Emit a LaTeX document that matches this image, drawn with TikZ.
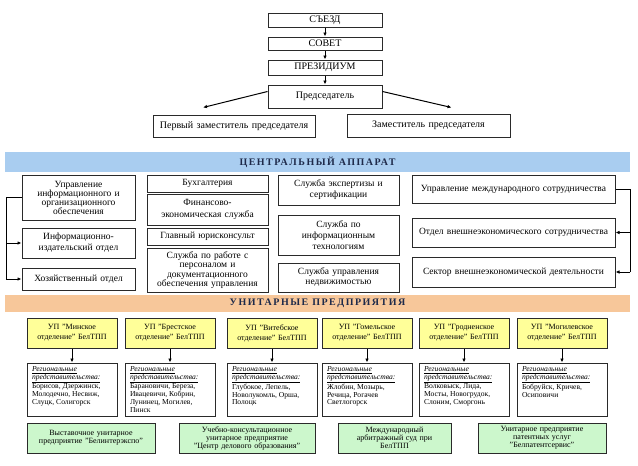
\documentclass[tikz,border=0pt]{standalone}
\usepackage{fontspec}
\setmainfont{Liberation Serif}
\usetikzlibrary{arrows.meta,positioning}
\definecolor{bandblue}{HTML}{A9CDF0}
\definecolor{bandorange}{HTML}{F7C79A}
\definecolor{unitary}{HTML}{FFFF99}
\definecolor{mint}{HTML}{CCF7CC}
\definecolor{frame}{HTML}{2A2A2A}
\definecolor{bandtext}{HTML}{1E2A4A}
\newcommand{\regtext}[1]{\parbox[t][46pt][t]{80pt}{\raggedright
 \underline{\textit{Региональные}}\\\underline{\textit{представительства:}}\\#1}}

\begin{document}
\begin{tikzpicture}[x=1pt,y=-1pt,
 b/.style={draw=frame,line width=1pt,fill=white,align=center,inner xsep=0pt,
 inner ysep=1pt,font=\fontsize{9.5}{11}\selectfont},
 top/.style={b,font=\fontsize{10}{11}\selectfont,text width=114pt},
 up/.style={b,fill=unitary,text width=90pt,minimum height=30pt,font=\fontsize{8}{10}\selectfont},
 reg/.style={b,minimum width=90pt,minimum height=53pt,font=\fontsize{7.6}{7.8}\selectfont},
 ent/.style={b,fill=mint,minimum height=30pt,font=\fontsize{8}{8}\selectfont},
 band/.style={minimum width=625pt,inner sep=0pt,text=bandtext,
 font=\fontsize{10}{10}\selectfont\bfseries\addfontfeature{LetterSpace=15}},
 a/.style={-{Latex[length=4pt,width=3.5pt]},line width=1pt,draw=black}]
 \useasboundingbox (0,0) rectangle (638,466);
 \fill[white] (0,0) rectangle (638,466);
 % governing bodies
 \node[top,minimum height=14pt] (congress) at (325,20) {СЪЕЗД};
 \node[top,minimum height=13pt,below=9pt of congress] (council) {СОВЕТ};
 \node[top,minimum height=15pt,below=9pt of council] (presidium) {ПРЕЗИДИУМ};
 \node[top,minimum height=23pt,below=9pt of presidium] (chair) {Председатель};
 \node[b,font=\fontsize{10}{11}\selectfont,text width=162pt,minimum height=22pt] (firstdep) at (234,126) {Первый заместитель председателя};
 \node[b,font=\fontsize{10}{11}\selectfont,text width=163pt,minimum height=23pt] (deputy) at (428.5,125.5) {Заместитель председателя};
 \draw[a] (congress)--(council); \draw[a] (council)--(presidium);
 \draw[a] (presidium)--(chair);
 \draw[a] ([yshift=5pt]chair.west)--([xshift=-31pt,yshift=7pt]firstdep.north);
 \draw[a] ([yshift=5pt]chair.east)--([xshift=23pt,yshift=6pt]deputy.north);
 % central office
 \node[band,fill=bandblue,minimum height=20pt] (central) at (317.5,162) {ЦЕНТРАЛЬНЫЙ АППАРАТ};
 \node[b,text width=113pt,minimum height=45pt,font=\fontsize{9.5}{9}\selectfont] (infoorg) at (78.5,197.5) {Управление\\информационного и\\организационного\\обеспечения};
 \node[b,text width=113pt,minimum height=30pt] (publish) at (78.5,243) {Информационно-\\издательский отдел};
 \node[b,text width=113pt,minimum height=22pt] (household) at (78.5,279) {Хозяйственный отдел};
 \node[b,text width=121pt,minimum height=17pt] (accounting) at (207.5,183.5) {Бухгалтерия};
 \node[b,text width=121pt,minimum height=31pt,font=\fontsize{9.5}{12.5}\selectfont] (finance) at (207.5,209.5) {Финансово-\\экономическая служба};
 \node[b,text width=121pt,minimum height=17pt] (lawyer) at (207.5,236.5) {Главный юрисконсульт};
 \node[b,text width=121pt,minimum height=44pt,font=\fontsize{9.5}{9.5}\selectfont] (personnel) at (207.5,270) {Служба по работе с\\персоналом и\\документационного\\обеспечения управления};
 \node[b,text width=121pt,minimum height=30pt] (expertise) at (338.5,190) {Служба экспертизы и\\сертификации};
 \node[b,text width=121pt,minimum height=40pt] (itserv) at (338.5,235) {Служба по\\информационным\\технологиям};
 \node[b,text width=121pt,minimum height=29pt,font=\fontsize{9.5}{10}\selectfont] (property) at (338.5,277.5) {Служба управления\\недвижимостью};
 \node[b,text width=203pt,minimum height=28pt] (intl) at (513.5,189) {Управление международного сотрудничества};
 \node[b,text width=203pt,minimum height=29pt] (foreign) at (513.5,232.5) {Отдел внешнеэкономического сотрудничества};
 \node[b,text width=203pt,minimum height=30pt] (sector) at (513.5,272) {Сектор внешнеэкономической деятельности};
 \coordinate (lrail) at (6,0); \coordinate (rrail) at (630,0);
 \draw[line width=1pt] (infoorg.west)--(lrail |- infoorg.west)--(lrail |- household.west);
 \draw[a] (lrail |- publish.west)--(publish.west);
 \draw[a] (lrail |- household.west)--(household.west);
 \draw[line width=1pt] (intl.east)--(rrail |- intl.east)--(rrail |- sector.east);
 \draw[a] (rrail |- foreign.east)--(foreign.east);
 \draw[a] (rrail |- sector.east)--(sector.east);
 % unitary enterprises
 \node[band,fill=bandorange,minimum height=17pt] (unitaries) at (317.5,303.5) {УНИТАРНЫЕ ПРЕДПРИЯТИЯ};
 \foreach \x/\nm/\city in {72/minsk/Минское,170/brest/Брестское,272/vitebsk/Витебское,
 367/gomel/Гомельское,464/grodno/Гродненское,562/mogilev/Могилевское}
 \node[up] (\nm) at (\x,333) {УП "\city\\отделение" БелТПП};
 \node[reg,below=14pt of minsk] (minsk-r) {\regtext{Борисов, Дзержинск,\\Молодечно, Несвиж,\\Слуцк, Солигорск}};
 \node[reg,below=14pt of brest] (brest-r) {\regtext{Барановичи, Береза,\\Ивацевичи, Кобрин,\\Лунинец, Могилев,\\Пинск}};
 \node[reg,below=14pt of vitebsk] (vitebsk-r) {\regtext{Глубокое, Лепель,\\Новолукомль, Орша,\\Полоцк}};
 \node[reg,below=14pt of gomel] (gomel-r) {\regtext{Жлобин, Мозырь,\\Речица, Рогачев\\Светлогорск}};
 \node[reg,below=14pt of grodno] (grodno-r) {\regtext{Волковыск, Лида,\\Мосты, Новогрудок,\\Слоним, Сморгонь}};
 \node[reg,below=14pt of mogilev] (mogilev-r) {\regtext{Бобруйск, Кричев,\\Осиповичи}};
 \foreach \nm in {minsk,brest,vitebsk,gomel,grodno,mogilev}
 \draw[a] (\nm)--(\nm-r);
 \node[ent,text width=128pt] (expo) at (91,438) {Выставочное унитарное\\предприятие "Белинтерэкспо"};
 \node[ent,text width=136pt] (training) at (247,438) {Учебно-консультационное\\унитарное предприятие\\"Центр делового образования"};
 \node[ent,text width=113pt] (court) at (394.5,438) {Международный\\арбитражный суд при\\БелТПП};
 \node[ent,text width=128pt] (patent) at (542,438) {Унитарное предприятие\\патентных услуг\\"Белпатентсервис"};
\end{tikzpicture}
\end{document}
